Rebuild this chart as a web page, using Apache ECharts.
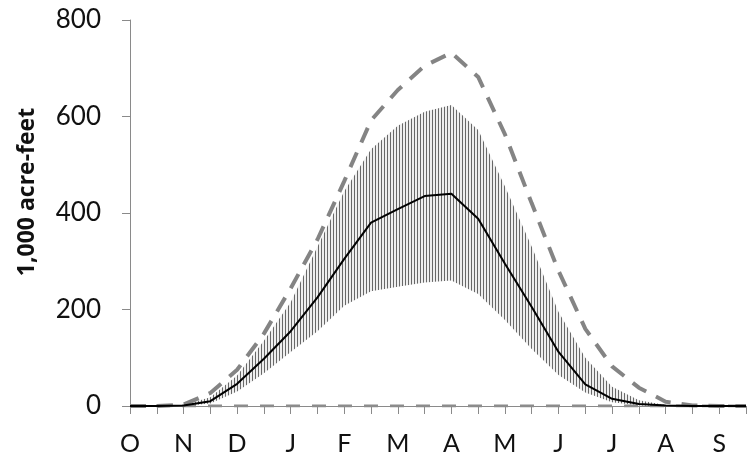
<!DOCTYPE html>
<html>
<head>
<meta charset="utf-8">
<script src="https://cdn.jsdelivr.net/npm/echarts@6/dist/echarts.min.js"></script>
<style>
  html, body { margin: 0; padding: 0; background: #ffffff; }
  #chart { width: 749px; height: 461px; }
</style>
</head>
<body>
<div id="chart"></div>
<script>
// Semi-monthly steps, water year October through September
const months = ['O', '', 'N', '', 'D', '', 'J', '', 'F', '', 'M', '', 'A', '', 'M', '', 'J', '', 'J', '', 'A', '', 'S', ''];

// Runoff volume, 1,000 acre-feet
const median = [0, 0, 1, 10, 46, 98, 155, 225, 305, 380, 408, 435, 440, 388, 295, 205, 112, 45, 15, 4, 1, 0, 0, 0];
const rangeLow = [0, 0, 0, 5, 30, 68, 112, 155, 208, 238, 247, 256, 260, 232, 178, 118, 64, 28, 8, 1, 0, 0, 0, 0];
const rangeHigh = [0, 0, 2, 18, 63, 135, 215, 330, 445, 532, 581, 610, 624, 572, 455, 330, 195, 100, 40, 12, 2, 0, 0, 0];
const maximum = [0, 0, 3, 27, 75, 150, 244, 345, 466, 592, 655, 705, 732, 682, 563, 420, 280, 160, 82, 38, 9, 1, 0, 0];
const minimum = [0, 0, 0, 0, 0, 0, 0, 0, 0, 0, 0, 0, 0, 0, 0, 0, 0, 0, 0, 0, 0, 0, 0, 0];

const yTicks = { min: 0, max: 800, step: 200 };

// Vertical hatch used for the range band
function hatch() {
  const c = document.createElement('canvas');
  c.width = 3; c.height = 4;
  const g = c.getContext('2d');
  g.fillStyle = '#efefef';
  g.fillRect(0, 0, 3, 4);
  g.fillStyle = '#686868';
  g.fillRect(0, 0, 1, 4);
  return c;
}

const bandHeight = rangeHigh.map((v, i) => v - rangeLow[i]);
const axisGray = '#8a8a8a';
const font = 'Lato, "Liberation Sans", sans-serif';

const chart = echarts.init(document.getElementById('chart'), null, { renderer: 'canvas' });
chart.setOption({
  animation: false,
  backgroundColor: '#ffffff',
  grid: { left: 130, top: 20, right: 0, bottom: 55, containLabel: false },
  xAxis: {
    type: 'category',
    data: months,
    boundaryGap: false,
    axisLine: { lineStyle: { color: axisGray, width: 1 } },
    axisTick: { show: true, interval: 0, length: 8, inside: false, lineStyle: { color: axisGray } },
    axisLabel: { interval: 0, color: '#111', fontFamily: font, fontSize: 25, margin: 25 },
    splitLine: { show: false }
  },
  yAxis: {
    type: 'value',
    min: yTicks.min,
    max: yTicks.max,
    interval: yTicks.step,
    axisLine: { show: true, lineStyle: { color: axisGray, width: 1 } },
    axisTick: { show: true, length: 8, lineStyle: { color: axisGray } },
    axisLabel: { color: '#111', fontFamily: font, fontSize: 26, margin: 29 },
    splitLine: { show: false }
  },
  graphic: [{
    type: 'text',
    x: 27, y: 192,
    rotation: Math.PI / 2,
    style: {
      text: '1,000 acre-feet',
      fill: '#111',
      font: 'bold 23px "Open Sans", Lato, sans-serif',
      align: 'center',
      verticalAlign: 'middle'
    }
  }],
  series: [
    {
      name: 'low', type: 'line', data: rangeLow, stack: 'range',
      symbol: 'none', lineStyle: { width: 0, opacity: 0 }, z: 1, silent: true
    },
    {
      name: 'range', type: 'line', data: bandHeight, stack: 'range',
      symbol: 'none', lineStyle: { width: 0, opacity: 0 },
      areaStyle: { color: { image: hatch(), repeat: 'repeat' }, opacity: 1 },
      z: 1, silent: true
    },
    {
      name: 'minimum', type: 'line', data: minimum, symbol: 'none',
      lineStyle: { color: '#8c8c8c', width: 3, type: [14, 12] }, z: 3
    },
    {
      name: 'maximum', type: 'line', data: maximum, symbol: 'none',
      lineStyle: { color: '#848484', width: 4, type: [16, 11] }, z: 3
    },
    {
      name: 'median', type: 'line', data: median, symbol: 'none',
      lineStyle: { color: '#000000', width: 2 }, z: 4
    }
  ]
});
</script>
</body>
</html>
